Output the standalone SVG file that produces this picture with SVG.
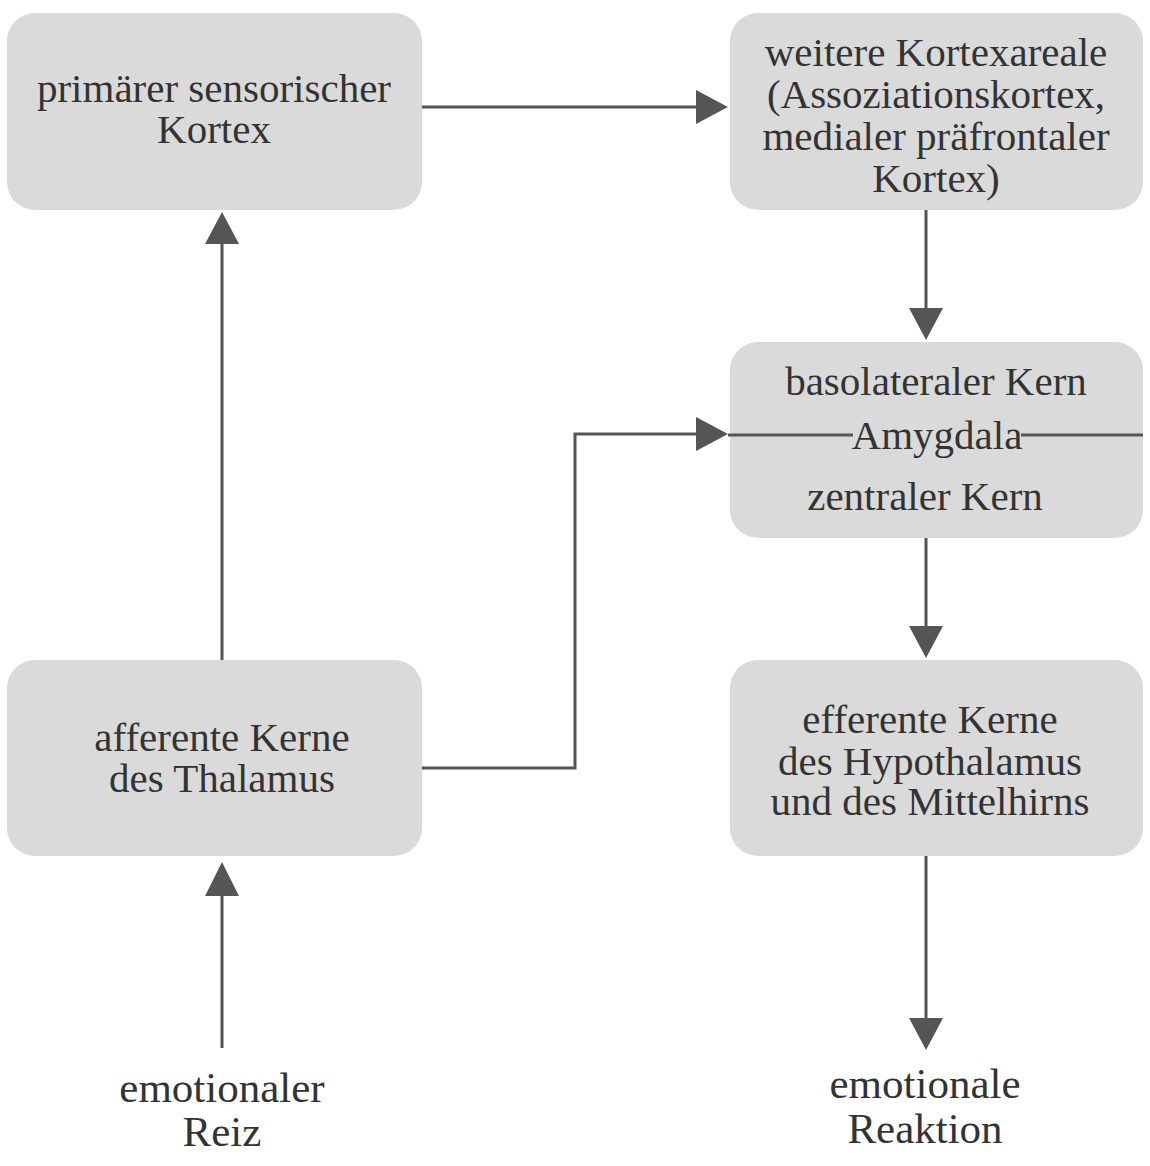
<svg xmlns="http://www.w3.org/2000/svg" width="1150" height="1166" viewBox="0 0 1150 1166">
<style>
.box{fill:#dadada;}
.t{font-family:"Liberation Serif","DejaVu Serif",serif;font-size:41px;fill:#333;text-anchor:middle;}
.b{font-size:43px;}
.c{stroke:#555;stroke-width:3;fill:none;}
.ah{fill:#555;}
</style>
<rect width="1150" height="1166" fill="#fff"/>
<g id="connectors">
<line class="c" x1="422" y1="107" x2="700" y2="107"/>
<polygon class="ah" points="728,107 696,90 696,124"/>
<line class="c" x1="926" y1="210" x2="926" y2="312"/>
<polygon class="ah" points="926,340 909,308 943,308"/>
<polyline class="c" points="422,768 575,768 575,434 700,434"/>
<polygon class="ah" points="728,434 696,417 696,451"/>
<line class="c" x1="926" y1="538" x2="926" y2="630"/>
<polygon class="ah" points="926,658 909,626 943,626"/>
<line class="c" x1="926" y1="856" x2="926" y2="1022"/>
<polygon class="ah" points="926,1050 909,1018 943,1018"/>
<line class="c" x1="222" y1="1048" x2="222" y2="892"/>
<polygon class="ah" points="222,862 205,896 239,896"/>
<line class="c" x1="222" y1="660" x2="222" y2="240"/>
<polygon class="ah" points="222,212 205,244 239,244"/>
</g>
<g id="primary">
<rect class="box" x="7" y="13" width="415" height="197" rx="28"/>
<text class="t" x="214" y="102">primärer sensorischer</text>
<text class="t" x="214" y="143">Kortex</text>
</g>
<g id="weitere">
<rect class="box" x="730" y="13" width="413" height="197" rx="28"/>
<text class="t" x="936" y="66">weitere Kortexareale</text>
<text class="t" x="936" y="108">(Assoziationskortex,</text>
<text class="t" x="936" y="150">medialer präfrontaler</text>
<text class="t" x="936" y="192">Kortex)</text>
</g>
<g id="amygdala">
<rect class="box" x="730" y="342" width="413" height="196" rx="28"/>
<text class="t" x="936" y="395">basolateraler Kern</text>
<line class="c" x1="728" y1="435" x2="853" y2="435"/>
<line class="c" x1="1021" y1="435" x2="1143" y2="435"/>
<text class="t" x="937" y="449">Amygdala</text>
<text class="t" x="925" y="510">zentraler Kern</text>
</g>
<g id="afferent">
<rect class="box" x="7" y="660" width="415" height="196" rx="28"/>
<text class="t" x="222" y="751">afferente Kerne</text>
<text class="t" x="222" y="792">des Thalamus</text>
</g>
<g id="efferent">
<rect class="box" x="730" y="660" width="413" height="196" rx="28"/>
<text class="t" x="930" y="733">efferente Kerne</text>
<text class="t" x="930" y="775">des Hypothalamus</text>
<text class="t" x="930" y="815">und des Mittelhirns</text>
</g>
<g id="reiz">
<text class="t b" x="222" y="1102">emotionaler</text>
<text class="t b" x="222" y="1146">Reiz</text>
</g>
<g id="reaktion">
<text class="t b" x="925" y="1098">emotionale</text>
<text class="t b" x="925" y="1143">Reaktion</text>
</g>
</svg>
